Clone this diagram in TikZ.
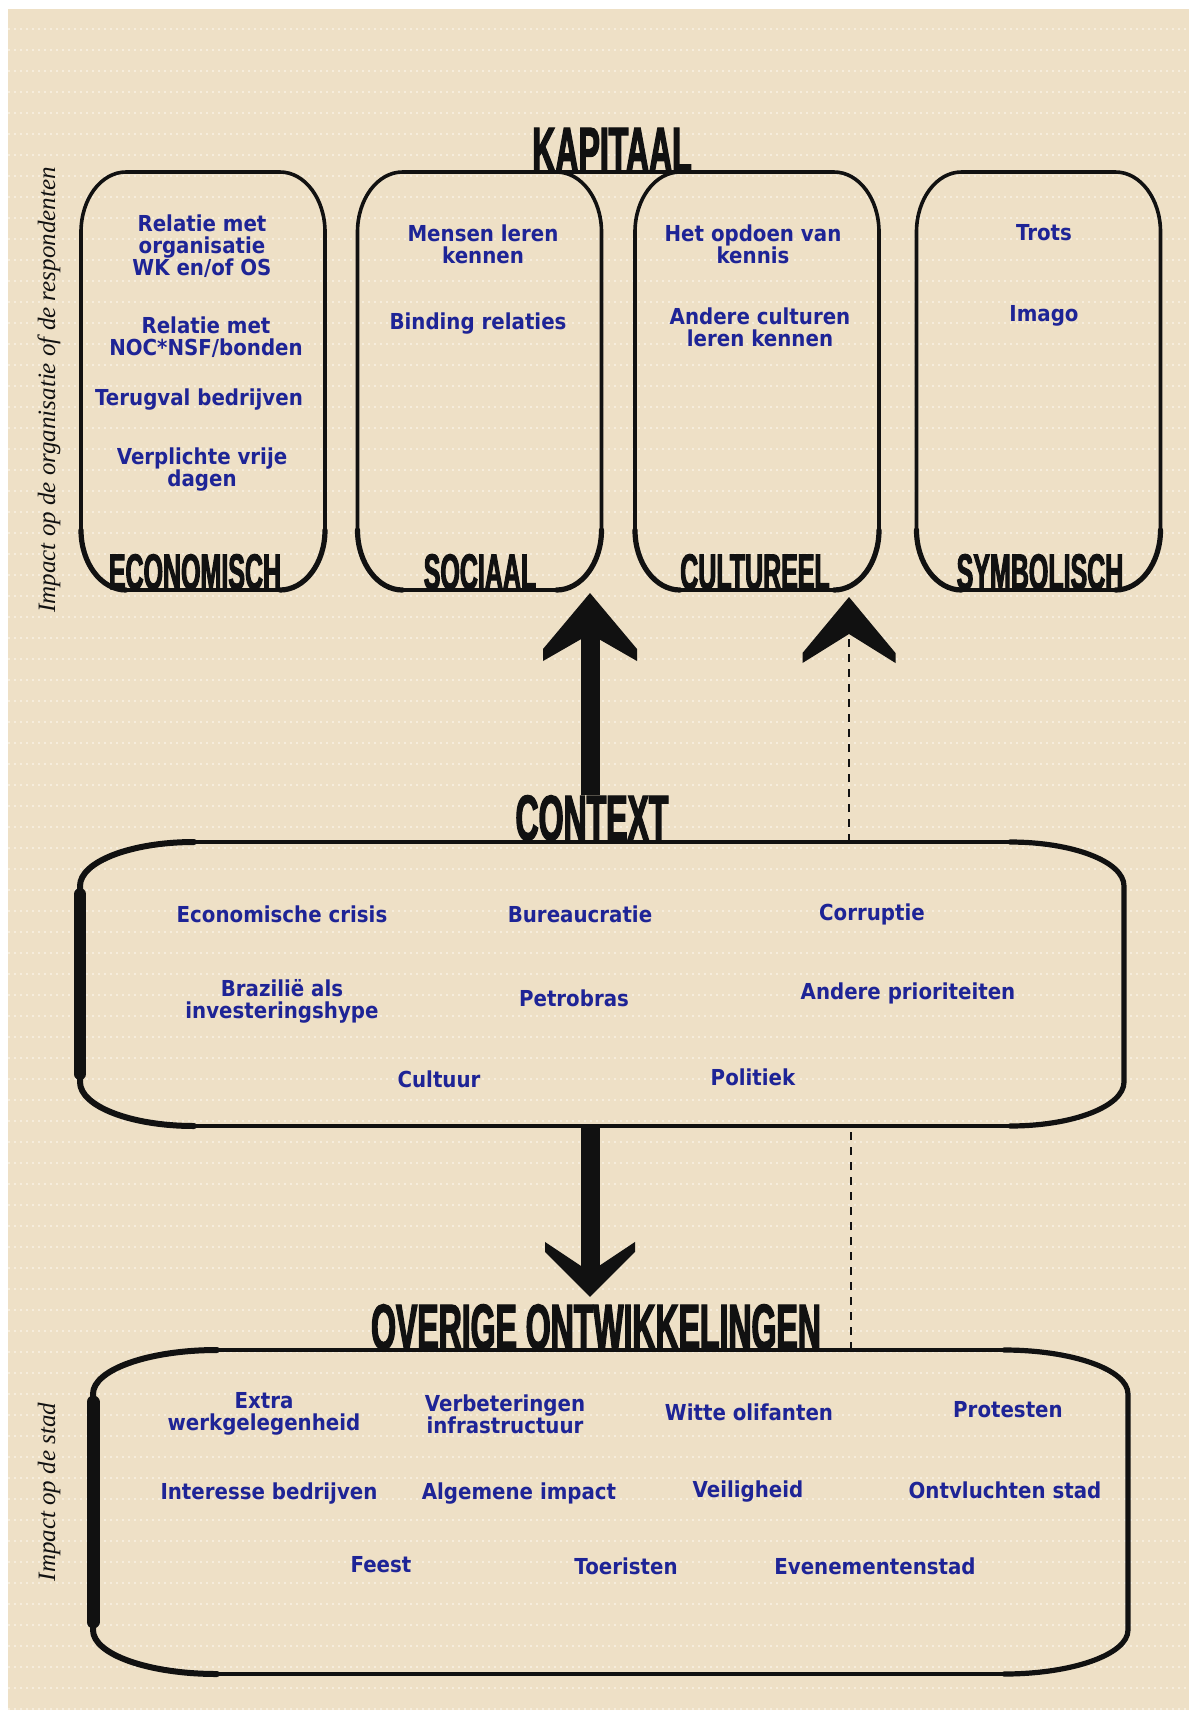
\documentclass[tikz,border=0pt]{standalone}
\usepackage{fontspec}
\setmainfont{DejaVu Sans}
\newfontfamily\bodyfont{DejaVu Sans}[FakeStretch=0.9]
\newfontfamily\headfont{Liberation Sans}[FakeStretch=0.5,FakeBold=2]
\newfontfamily\cursive{Liberation Serif}
\usetikzlibrary{arrows.meta,calc}
\definecolor{bg}{RGB}{238,224,198}
\definecolor{ink}{RGB}{30,36,150}
\definecolor{inkblack}{RGB}{17,17,17}
\definecolor{dotc}{RGB}{250,243,230}
\newcommand\brushframe[4]{%
  \draw[#4] ([xshift=#2]#1.north west) -- ([xshift=-#2]#1.north east)
    arc[start angle=90,end angle=0,x radius=#2,y radius=#3]
    -- ([yshift=#3]#1.south east)
    arc[start angle=0,end angle=-90,x radius=#2,y radius=#3]
    -- ([xshift=#2]#1.south west)
    arc[start angle=-90,end angle=-180,x radius=#2,y radius=#3]
    -- ([yshift=-#3]#1.north west)
    arc[start angle=180,end angle=90,x radius=#2,y radius=#3]
    -- cycle;}
\newcommand\brushbottom[4]{%
  \draw[#4] ([yshift=#3]#1.south east)
    arc[start angle=0,end angle=-90,x radius=#2,y radius=#3];
  \draw[#4] ([xshift=#2]#1.south west)
    arc[start angle=-90,end angle=-180,x radius=#2,y radius=#3];}
\newcommand\brushleftside[4]{%
  \draw[#4] ([xshift=#2]#1.north west)
    arc[start angle=90,end angle=180,x radius=#2,y radius=#3]
    -- ([yshift=#3]#1.south west)
    arc[start angle=180,end angle=270,x radius=#2,y radius=#3];}
\newcommand\brushrightside[4]{%
  \draw[#4] ([xshift=-#2]#1.north east)
    arc[start angle=90,end angle=0,x radius=#2,y radius=#3]
    -- ([yshift=#3]#1.south east)
    arc[start angle=0,end angle=-90,x radius=#2,y radius=#3];}
\begin{document}
\begin{tikzpicture}[x=0.5pt,y=-0.5pt,
  bgdots/.style={draw=dotc, line width=1pt, dash pattern=on 1pt off 2pt, opacity=0.7},
  boxarea/.style={rectangle, inner sep=0pt, outer sep=0pt, draw=none},
  brush/.style={draw=inkblack, line width=1.8pt, line join=round, line cap=round},
  heavy/.style={draw=inkblack, line width=#1, line cap=round, line join=round},
  item/.style={font=\bodyfont\bfseries\fontsize{11}{11}\selectfont, text=ink, align=center, inner sep=0pt},
  head/.style={font=\headfont\bfseries\fontsize{32}{32}\selectfont, text=inkblack, inner sep=0pt, anchor=base},
  boxhead/.style={font=\headfont\bfseries\fontsize{25}{25}\selectfont, text=inkblack, inner sep=0pt, anchor=base},
  sidetext/.style={font=\cursive\itshape\fontsize{12.5}{12.5}\selectfont, text=inkblack, rotate=90, inner sep=0pt},
  shaft/.style={draw=inkblack, line width=9.5pt},
  dashline/.style={draw=inkblack, line width=1pt, dash pattern=on 4pt off 3.5pt},
  upchev/.pic={\fill[inkblack] (0,0) -- (47,56) -- (47,68) -- (0,41) -- (-47,68) -- (-47,56) -- cycle;},
  dashchev/.pic={\fill[inkblack] (0,0) -- (46.5,56) -- (46.5,66) -- (0,37) -- (-46.5,66) -- (-46.5,56) -- cycle;},
  downchev/.pic={\fill[inkblack] (0,0) -- (45,-45) -- (45,-55) -- (0,-25) -- (-45,-55) -- (-45,-45) -- cycle;}
]
\useasboundingbox (0,0) rectangle (1189,1710);
\fill[white] (0,0) rectangle (1189,1710);
\fill[bg] (8,9) rectangle (1189,1710);
\foreach \yy in {29,50,...,1709} \draw[bgdots] (8,\yy) -- (1189,\yy);

% box areas
\node[boxarea, minimum width=122pt, minimum height=209pt] (econ) at (203,381) {};
\node[boxarea, minimum width=122pt, minimum height=209pt] (soc) at (479.5,381) {};
\node[boxarea, minimum width=122pt, minimum height=209pt] (cult) at (757,381) {};
\node[boxarea, minimum width=122pt, minimum height=209pt] (symb) at (1038.5,381) {};
\node[boxarea, minimum width=522pt, minimum height=142pt] (ctx) at (602,984) {};
\node[boxarea, minimum width=517.5pt, minimum height=162pt] (ovr) at (610.5,1512) {};

% outlines
\foreach \b in {econ,soc,cult,symb}{
  \brushframe{\b}{22.5pt}{30pt}{brush}
  \brushbottom{\b}{22.5pt}{30pt}{heavy=2.6pt}
}
\draw[brush] (soc.north) -- (cult.north);
\brushframe{ctx}{57pt}{22pt}{brush}
\brushleftside{ctx}{57pt}{22pt}{heavy=3pt}
\draw[heavy=6pt] ([yshift=-26pt]ctx.north west) -- ([yshift=26pt]ctx.south west);
\brushrightside{ctx}{57pt}{22pt}{heavy=2.6pt}
\brushframe{ovr}{62pt}{22pt}{brush}
\brushleftside{ovr}{62pt}{22pt}{heavy=3pt}
\draw[heavy=6.5pt] ([yshift=-26pt]ovr.north west) -- ([yshift=26pt]ovr.south west);
\brushrightside{ovr}{62pt}{22pt}{heavy=2.6pt}

% headings
\node[head] (kaplab) at (612,172) {KAPITAAL};
\node[head] (ctxlab) at (592,840) {CONTEXT};
\node[head] (ovrlab) at (596,1349) {OVERIGE ONTWIKKELINGEN};
\node[boxhead] (econlab) at (195,589) {ECONOMISCH};
\node[boxhead] (soclab) at (480,589) {SOCIAAL};
\node[boxhead] (cultlab) at (755,589) {CULTUREEL};
\node[boxhead] (symblab) at (1040,589) {SYMBOLISCH};

% side texts
\node[sidetext] (side1) at (49,390) {Impact op de organisatie of de respondenten};
\node[sidetext] (side2) at (49,1492) {Impact op de stad};

% economisch items
\node[item] (e1) at (202,246) {Relatie met\\organisatie\\WK en/of OS};
\node[item] (e2) at (206,337) {Relatie met\\NOC*NSF/bonden};
\node[item] (e3) at (199,400) {Terugval bedrijven};
\node[item] (e4) at (202,470) {Verplichte vrije\\dagen};
% sociaal
\node[item] (s1) at (483,244) {Mensen leren\\kennen};
\node[item] (s2) at (478,324) {Binding relaties};
% cultureel
\node[item] (c1) at (753,244) {Het opdoen van\\kennis};
\node[item] (c2) at (760,327) {Andere culturen\\leren kennen};
% symbolisch
\node[item] (y1) at (1044,233) {Trots};
\node[item] (y2) at (1044,316) {Imago};

% context items
\node[item] (x1) at (282,914) {Economische crisis};
\node[item] (x2) at (580,914) {Bureaucratie};
\node[item] (x3) at (872,914) {Corruptie};
\node[item] (x4) at (282,1001) {Brazilië als\\investeringshype};
\node[item] (x5) at (574,998) {Petrobras};
\node[item] (x6) at (908,993) {Andere prioriteiten};
\node[item] (x7) at (439,1079) {Cultuur};
\node[item] (x8) at (753,1077) {Politiek};

% overige items
\node[item] (o1) at (264,1414) {Extra\\werkgelegenheid};
\node[item] (o2) at (505,1414) {Verbeteringen\\infrastructuur};
\node[item] (o3) at (749,1412) {Witte olifanten};
\node[item] (o4) at (1008,1410) {Protesten};
\node[item] (o5) at (269,1493) {Interesse bedrijven};
\node[item] (o6) at (519,1493) {Algemene impact};
\node[item] (o7) at (748,1491) {Veiligheid};
\node[item] (o8) at (1005,1490) {Ontvluchten stad};
\node[item] (o9) at (381,1565) {Feest};
\node[item] (o10) at (626,1566) {Toeristen};
\node[item] (o11) at (875,1566) {Evenementenstad};

% connectors
\draw[shaft, shorten >=10pt] (ctxlab.north -| 590,0) -- (soc.south -| 590,0);
\pic[shift={(0,3)}] at (soc.south -| 590,0) {upchev};
\draw[dashline, shorten >=21pt] (ctx.north -| 849,0) -- (cult.south -| 849,0);
\pic[shift={(0,7)}] at (cult.south -| 849,0) {dashchev};
\draw[shaft, shorten >=11pt] (ctx.south -| 590,0) -- (ovrlab.north -| 590,0);
\pic[shift={(0,-7)}] at (ovrlab.north -| 590,0) {downchev};
\draw[dashline] (ovr.north -| 851,0) -- (ctx.south -| 851,0);
\end{tikzpicture}
\end{document}
